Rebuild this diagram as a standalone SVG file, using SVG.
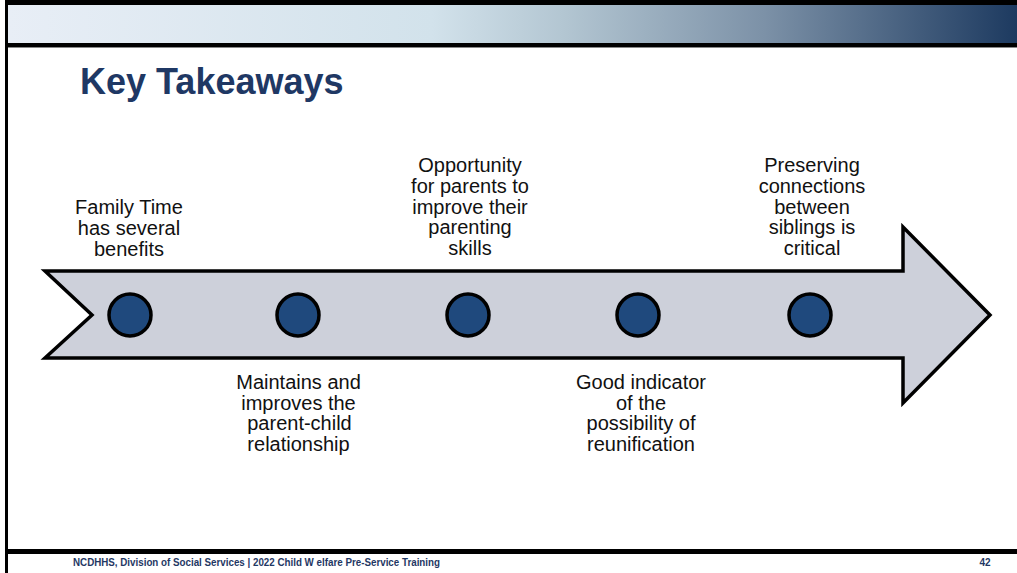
<svg xmlns="http://www.w3.org/2000/svg" width="1017" height="573" viewBox="0 0 1017 573">
<defs>
<linearGradient id="hdr" x1="0" y1="0" x2="1" y2="0">
<stop offset="0" stop-color="#e8eef6"/>
<stop offset="0.42" stop-color="#d2e2eb"/>
<stop offset="0.55" stop-color="#b3c6d2"/>
<stop offset="0.75" stop-color="#7c91a7"/>
<stop offset="1" stop-color="#1d3a60"/>
</linearGradient>
<style>
.lbl{font-family:"Liberation Sans",Arial,sans-serif;font-size:20px;fill:#111;text-anchor:middle}
.dot{fill:#1f497d;stroke:#000;stroke-width:3.5}
.foot{font-family:"Liberation Sans",Arial,sans-serif;font-size:10px;font-weight:bold;fill:#1f3864}
</style>
</defs>
<rect x="0" y="0" width="1017" height="573" fill="#fff"/>
<g id="frame">
<rect x="5" y="0" width="1012" height="5" fill="#000"/>
<rect x="8" y="5" width="1009" height="38" fill="url(#hdr)"/>
<rect x="5" y="43" width="1012" height="4" fill="#000"/>
<rect x="5" y="47" width="1012" height="1" fill="#888"/>
<rect x="5" y="0" width="3" height="573" fill="#000"/>
<rect x="5" y="549" width="1012" height="5" fill="#000"/>
</g>
<g id="title">
<text x="80" y="94" font-family="Liberation Sans,Arial,sans-serif" font-size="36" font-weight="bold" fill="#1f3864">Key Takeaways</text>
</g>
<g id="arrow">
<polygon points="45,271 903,271 903,227 990,315 903,403 903,358 45,358 92,315" fill="#cdd0da" stroke="#000" stroke-width="3.5" stroke-linejoin="miter"/>
</g>
<g id="node1">
<circle class="dot" cx="130" cy="315" r="21"/>
<text class="lbl"><tspan x="129" y="214">Family Time</tspan><tspan x="129" y="235">has several</tspan><tspan x="129" y="256">benefits</tspan></text>
</g>
<g id="node2">
<circle class="dot" cx="298" cy="315" r="21"/>
<text class="lbl"><tspan x="298.5" y="389">Maintains and</tspan><tspan x="298.5" y="410">improves the</tspan><tspan x="299.5" y="430">parent-child</tspan><tspan x="298.5" y="451">relationship</tspan></text>
</g>
<g id="node3">
<circle class="dot" cx="468" cy="315" r="21"/>
<text class="lbl"><tspan x="470" y="172">Opportunity</tspan><tspan x="470" y="193">for parents to</tspan><tspan x="470" y="214">improve their</tspan><tspan x="470" y="234">parenting</tspan><tspan x="470" y="255">skills</tspan></text>
</g>
<g id="node4">
<circle class="dot" cx="638" cy="315" r="21"/>
<text class="lbl"><tspan x="641" y="389">Good indicator</tspan><tspan x="641" y="410">of the</tspan><tspan x="641" y="430">possibility of</tspan><tspan x="641" y="451">reunification</tspan></text>
</g>
<g id="node5">
<circle class="dot" cx="810" cy="315" r="21"/>
<text class="lbl"><tspan x="812" y="172">Preserving</tspan><tspan x="812" y="193">connections</tspan><tspan x="812" y="214">between</tspan><tspan x="812" y="234">siblings is</tspan><tspan x="812" y="255">critical</tspan></text>
</g>
<g id="connectors"></g>
<g id="footer">
<text class="foot" x="73" y="566" textLength="367" lengthAdjust="spacingAndGlyphs">NCDHHS, Division of Social Services | 2022 Child W elfare Pre-Service Training</text>
<text class="foot" x="985" y="566" text-anchor="middle">42</text>
</g>
</svg>
